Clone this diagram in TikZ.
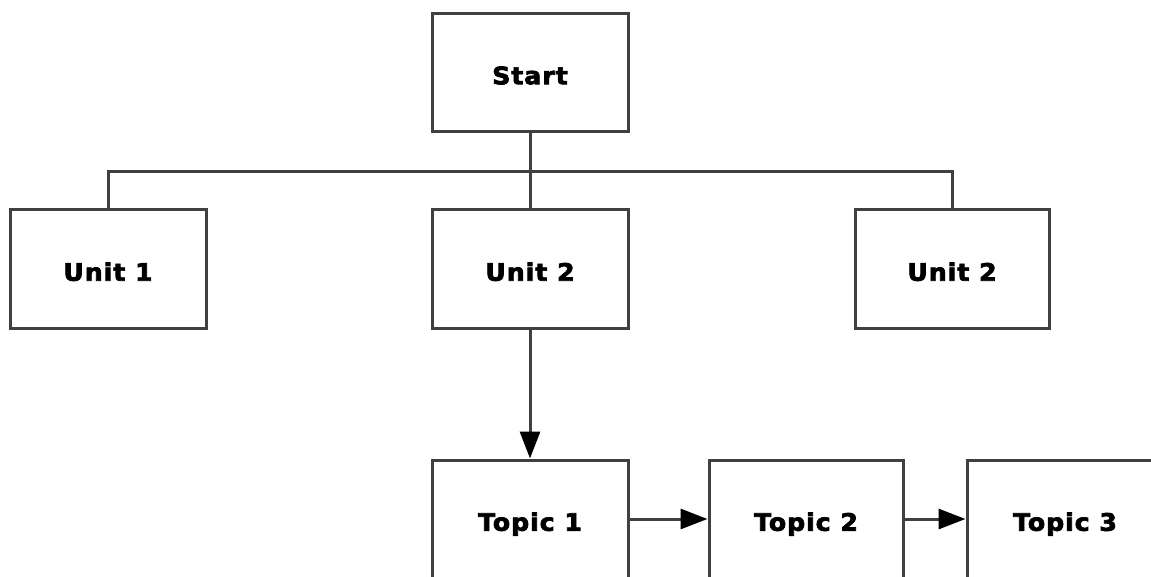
\documentclass[tikz,border=0pt]{standalone}
\usepackage{fontspec}
\newfontfamily\boxfont[LetterSpace=4,FakeStretch=1.05,FakeBold=3]{DejaVu Sans}
\usetikzlibrary{arrows.meta,positioning}

\begin{document}
\begin{tikzpicture}[x=1pt, y=-1pt, >={Triangle[length=27pt,width=20pt,color=black]},
  line width=3pt,
  box/.style={draw=black!75, rectangle, minimum width=196pt, minimum height=118pt,
    inner sep=0pt, text height=23.5pt, text depth=0pt,
    font=\boxfont\bfseries\fontsize{24}{28}\selectfont}]
\path[use as bounding box, clip] (0,0) rectangle (1151,577);
\fill[white] (0,0) rectangle (1151,577);
\node[box] (Start) at (530,72.5) {Start};
\node[box] (Unit1) at (108,269) {Unit 1};
\node[box] (Unit2) at (530,269) {Unit 2};
\node[box, minimum width=194pt] (Unit3) at (952,269) {Unit 2};
\node[box] (Topic1) at (530,519) {Topic 1};
\node[box, minimum width=194pt] (Topic2) at (806,519) {Topic 2};
\node[box] (Topic3) at (1065,519) {Topic 3};
\coordinate (bar) at (530,172);
% tree lines
\draw[black!75] (Start) -- (Unit2);
\draw[black!75] (Unit1.north) |- (bar) -| (Unit3.north);
% arrows
\draw[->, black!75] (Unit2) -- (Topic1);
\draw[->, black!75] (Topic1) -- (Topic2);
\draw[->, black!75] (Topic2) -- (Topic3);
\end{tikzpicture}
\end{document}
